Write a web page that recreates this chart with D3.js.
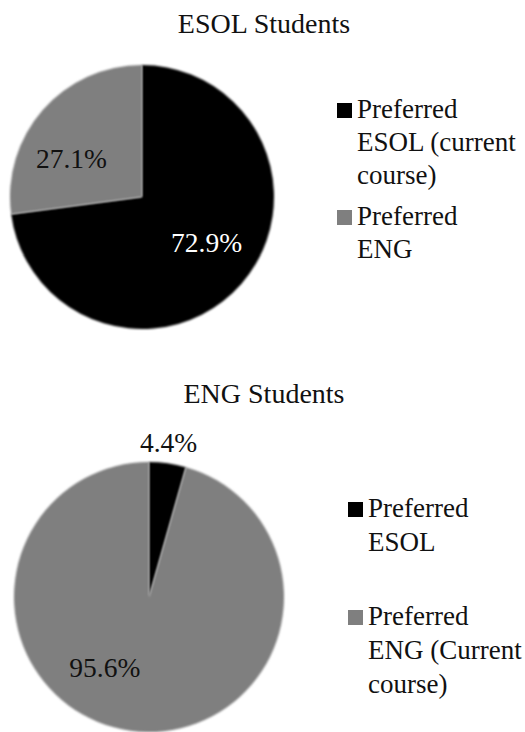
<!DOCTYPE html>
<html>
<head>
<meta charset="utf-8">
<script src="https://cdn.jsdelivr.net/npm/d3@7"></script>
<style>
  body { margin: 0; background: #fff; }
  svg { display: block; }
</style>
</head>
<body>
<div id="chart"></div>
<script>
// data
const esolCategories = ["Preferred ESOL (current course)", "Preferred ENG"];
const esolValues = [72.9, 27.1];
const engCategories = ["Preferred ESOL", "Preferred ENG (Current course)"];
const engValues = [4.4, 95.6];
const titles = ["ESOL Students", "ENG Students"];

// legend lines (wrapped as in the original)
const esolLegendLines = [["Preferred", "ESOL (current", "course)"], ["Preferred", "ENG"]];
const engLegendLines = [["Preferred", "ESOL"], ["Preferred", "ENG (Current", "course)"]];

const colors = ["#000000", "#7f7f7f"];
const labelColors = [["#ffffff", "#111"], ["#111", "#111"]];

const width = 525, height = 732;

const svg = d3.select("#chart")
  .append("svg")
  .attr("width", width)
  .attr("height", height);

// soft edge like the original picture
const defs = svg.append("defs");
const f = defs.append("filter").attr("id", "soft")
  .attr("x", "-5%").attr("y", "-5%").attr("width", "110%").attr("height", "110%");
f.append("feGaussianBlur").attr("in", "SourceGraphic").attr("stdDeviation", 0.8);

const charts = [
  {
    title: titles[0], cats: esolCategories, vals: esolValues, legend: esolLegendLines,
    titleY: 33, cx: 142, cy: 197, r: 132,
    labelR: [0.62, 0.62], labelShift: [[3, -9], [-9, 15]],
    legendX: 337, legendY: [103, 210], lineH: 33
  },
  {
    title: titles[1], cats: engCategories, vals: engValues, legend: engLegendLines,
    titleY: 403, cx: 149, cy: 597, r: 135,
    labelR: [1.16, 0.6], labelShift: [[-2, 0], [-33, -10]],
    legendX: 348, legendY: [502, 610], lineH: 34
  }
];

const pie = d3.pie().sort(null).value(d => d);

charts.forEach((c, ci) => {
  svg.append("text")
    .attr("x", 264)
    .attr("y", c.titleY)
    .attr("text-anchor", "middle")
    .style("font-family", "'Liberation Serif', serif")
    .style("font-size", "28px")
    .style("fill", "#111")
    .text(c.title);

  const g = svg.append("g")
    .attr("transform", `translate(${c.cx},${c.cy})`);

  const arc = d3.arc().innerRadius(0).outerRadius(c.r);
  const arcs = pie(c.vals);

  g.selectAll("path")
    .data(arcs)
    .enter()
    .append("path")
    .attr("d", arc)
    .attr("fill", (d, i) => colors[i])
    .attr("filter", "url(#soft)");

  g.selectAll(".lbl")
    .data(arcs)
    .enter()
    .append("text")
    .attr("class", "lbl")
    .attr("transform", (d, i) => {
      const la = d3.arc().innerRadius(c.r * c.labelR[i]).outerRadius(c.r * c.labelR[i]);
      const p = la.centroid(d);
      return `translate(${p[0] + c.labelShift[i][0]},${p[1] + c.labelShift[i][1]})`;
    })
    .attr("text-anchor", "middle")
    .attr("dy", "0.35em")
    .style("font-family", "'Liberation Serif', serif")
    .style("font-size", "27.5px")
    .style("fill", (d, i) => labelColors[ci][i])
    .text(d => d.data.toFixed(1) + "%");

  // legend
  c.legend.forEach((lines, i) => {
    const lg = svg.append("g");
    lg.append("rect")
      .attr("x", c.legendX)
      .attr("y", c.legendY[i])
      .attr("width", 15)
      .attr("height", 15)
      .attr("fill", colors[i]);
    const t = lg.append("text")
      .attr("x", c.legendX + 20)
      .attr("y", c.legendY[i] + 15)
      .style("font-family", "'Liberation Serif', serif")
      .style("font-size", "27px")
      .style("fill", "#111");
    lines.forEach((ln, k) => {
      t.append("tspan")
        .attr("x", c.legendX + 20)
        .attr("dy", k === 0 ? 0 : c.lineH)
        .text(ln);
    });
  });
});
</script>
</body>
</html>
